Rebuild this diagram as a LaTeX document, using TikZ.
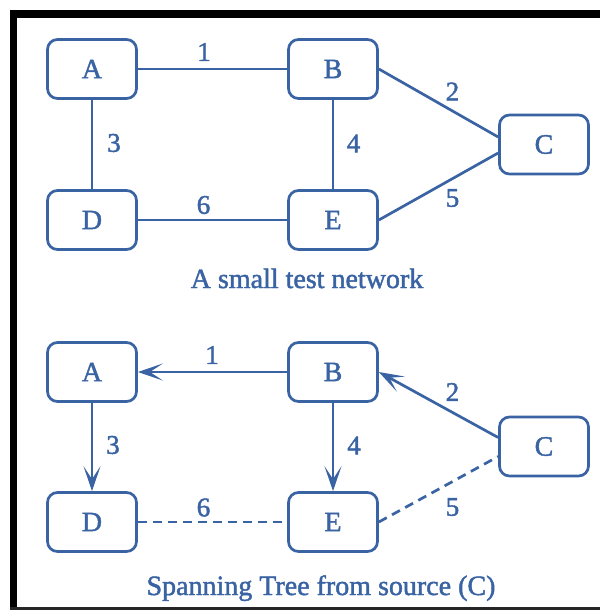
\documentclass[tikz,border=0pt]{standalone}
\usepackage{fontspec}
\setmainfont{Liberation Serif}
\newfontfamily\netfont[FakeBold=1.6]{Liberation Serif}
\usetikzlibrary{arrows.meta}
\definecolor{netblue}{RGB}{58,99,163}
\tikzset{
  vbox/.style={draw=netblue, text=netblue, line width=2.7pt, rounded corners=10pt,
    minimum width=89pt, minimum height=59pt, inner sep=0pt,
    font=\netfont\fontsize{28}{32}\selectfont},
  elabel/.style={text=netblue, inner sep=0pt, font=\netfont\fontsize{27}{30}\selectfont},
  caption/.style={text=netblue, inner sep=0pt, anchor=base, font=\netfont\fontsize{28}{32}\selectfont},
  edge/.style={draw=netblue, line width=2.7pt},
  tree/.style={edge, -{Stealth[length=25pt, width=17pt, inset=13pt]}},
  nontree/.style={edge, dash pattern=on 9pt off 6pt}
}
\begin{document}
\begin{tikzpicture}[x=1pt,y=-1pt]
\useasboundingbox (0,0) rectangle (600,610);
% frame
\fill[black] (10,10) rectangle (600,18);
\fill[black] (10,10) rectangle (17,610);
\fill[black!85] (10,607) rectangle (600,609.5);

% top network
\node[vbox] (A1) at (92,69) {A};
\node[vbox] (B1) at (333,69) {B};
\node[vbox] (C1) at (544,144.5) {C};
\node[vbox] (D1) at (92,220) {D};
\node[vbox] (E1) at (333,220) {E};
\draw[edge] (A1) -- (B1);
\draw[edge] (A1) -- (D1);
\draw[edge] (B1) -- (E1);
\draw[edge] (D1) -- (E1);
\draw[edge] (B1.east) -- ([yshift=7.5pt]C1.west);
\draw[edge] (E1.east) -- ([yshift=-8.5pt]C1.west);
\node[elabel] (l1a) at (204,52) {1};
\node[elabel] (l2a) at (452.5,91.5) {2};
\node[elabel] (l3a) at (114,143) {3};
\node[elabel] (l4a) at (353.5,143.5) {4};
\node[elabel] (l5a) at (452.5,198) {5};
\node[elabel] (l6a) at (203.5,205) {6};
\node[caption] (cap1) at (307,288) {A small test network};

% spanning tree
\node[vbox] (A2) at (92,372) {A};
\node[vbox] (B2) at (333,372) {B};
\node[vbox] (C2) at (544,446.5) {C};
\node[vbox] (D2) at (92,522) {D};
\node[vbox] (E2) at (333,522) {E};
\draw[tree] (B2) -- (A2);
\draw[tree] (A2) -- (D2);
\draw[tree] (B2) -- (E2);
\draw[tree] ([yshift=9pt]C2.west) -- (B2.east);
\draw[nontree] (D2) -- (E2);
\draw[nontree] (E2.east) -- ([yshift=-10pt]C2.west);
\node[elabel] (l1b) at (212,355) {1};
\node[elabel] (l2b) at (452.5,392) {2};
\node[elabel] (l3b) at (113,445) {3};
\node[elabel] (l4b) at (354,445.5) {4};
\node[elabel] (l5b) at (452.5,507) {5};
\node[elabel] (l6b) at (203.5,507.5) {6};
\node[caption] (cap2) at (321,595) {Spanning Tree from source (C)};
\end{tikzpicture}
\end{document}
